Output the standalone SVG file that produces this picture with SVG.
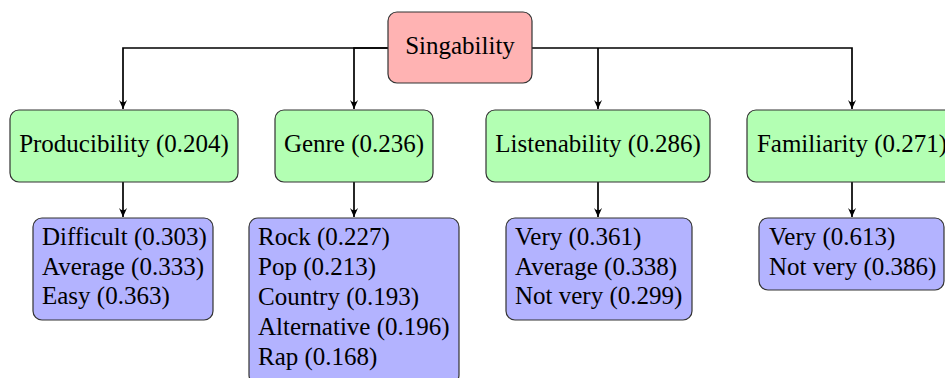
<svg xmlns="http://www.w3.org/2000/svg" width="945" height="378" viewBox="0 0 945 378">
<defs>
<marker id="arr" viewBox="0 0 10 10" refX="10" refY="5" markerWidth="9" markerHeight="9" markerUnits="userSpaceOnUse" orient="auto">
<path d="M0,0.5 Q5,5 0,9.5 L10,5 Z" fill="#000"/>
</marker>
<style>
.box{stroke:#333;stroke-width:1.2}
.root{fill:#ffb3b3}
.mid{fill:#b3ffb3}
.leaf{fill:#b3b3ff}
.c{text-anchor:middle}
.conn{fill:none;stroke:#000;stroke-width:1.7}
</style>
</defs>
<g id="connectors">
<path class="conn" d="M388,48 H123 V109" marker-end="url(#arr)"/>
<path class="conn" d="M388,48 H354 V109" marker-end="url(#arr)"/>
<path class="conn" d="M532,48 H852 V109" marker-end="url(#arr)"/>
<path class="conn" d="M598,48 V109" marker-end="url(#arr)"/>
<path class="conn" d="M123,182 V217" marker-end="url(#arr)"/>
<path class="conn" d="M354,182 V217" marker-end="url(#arr)"/>
<path class="conn" d="M598,182 V217" marker-end="url(#arr)"/>
<path class="conn" d="M852,182 V217" marker-end="url(#arr)"/>
</g>
<g font-family="'Liberation Serif', 'Times New Roman', serif" font-size="25" fill="#000">
<g id="singability">
<rect class="box root" x="388" y="12" width="144" height="71" rx="9"/>
<text class="c" x="460" y="54">Singability</text>
</g>
<g id="producibility">
<rect class="box mid" x="10" y="110" width="228" height="72" rx="9"/>
<text class="c" x="124" y="152">Producibility (0.204)</text>
</g>
<g id="genre">
<rect class="box mid" x="275" y="110" width="158" height="72" rx="9"/>
<text class="c" x="354" y="152">Genre (0.236)</text>
</g>
<g id="listenability">
<rect class="box mid" x="486" y="110" width="224" height="72" rx="9"/>
<text class="c" x="598" y="152">Listenability (0.286)</text>
</g>
<g id="familiarity">
<rect class="box mid" x="747" y="110" width="210" height="72" rx="9"/>
<text class="c" x="852" y="152">Familiarity (0.271)</text>
</g>
<g id="producibility-levels">
<rect class="box leaf" x="33" y="218" width="180" height="102" rx="9"/>
<text x="42" y="245">Difficult (0.303)</text>
<text x="42" y="275">Average (0.333)</text>
<text x="42" y="304">Easy (0.363)</text>
</g>
<g id="genre-levels">
<rect class="box leaf" x="249" y="218" width="210" height="166" rx="9"/>
<text x="258" y="245">Rock (0.227)</text>
<text x="258" y="275">Pop (0.213)</text>
<text x="258" y="305">Country (0.193)</text>
<text x="258" y="335">Alternative (0.196)</text>
<text x="258" y="365">Rap (0.168)</text>
</g>
<g id="listenability-levels">
<rect class="box leaf" x="506" y="218" width="186" height="102" rx="9"/>
<text x="515" y="245">Very (0.361)</text>
<text x="515" y="275">Average (0.338)</text>
<text x="515" y="304">Not very (0.299)</text>
</g>
<g id="familiarity-levels">
<rect class="box leaf" x="759" y="218" width="185" height="72" rx="9"/>
<text x="769" y="245">Very (0.613)</text>
<text x="769" y="275">Not very (0.386)</text>
</g>
</g>
</svg>
